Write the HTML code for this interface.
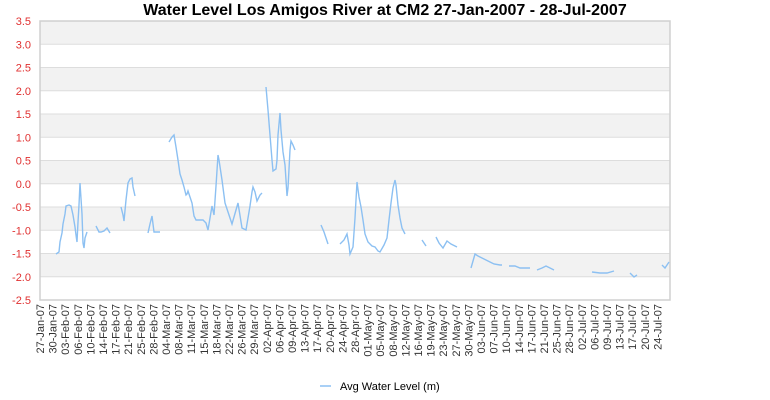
<!DOCTYPE html>
<html><head><meta charset="utf-8"><style>
body{margin:0;background:#fff;}
svg{display:block;font-family:"Liberation Sans",sans-serif;}
</style></head><body>
<svg id="c" width="770" height="400" xmlns="http://www.w3.org/2000/svg">
<text x="385" y="15" text-anchor="middle" font-size="16" font-weight="bold" fill="#000">Water Level Los Amigos River at CM2  27-Jan-2007 - 28-Jul-2007</text>
<g id="bands"></g>
<g id="grid"></g>
<rect x="40" y="21" width="630" height="279" fill="none" stroke="#d0d0d0" stroke-width="1.5"/>
<g id="ylab" font-size="11" fill="#e03030" text-anchor="end"></g>
<g id="xlab" font-size="11" fill="#333"></g>
<g id="data" fill="none" stroke="#8cc0f2" stroke-width="1.4"></g>
<line x1="320" y1="386" x2="331" y2="386" stroke="#8cc0f2" stroke-width="1.5"/>
<text x="340" y="390" font-size="11" fill="#000">Avg Water Level (m)</text>
</svg>
<script>
const ns="http://www.w3.org/2000/svg";
function el(t,a,p,txt){const e=document.createElementNS(ns,t);for(const k in a)e.setAttribute(k,a[k]);if(txt)e.textContent=txt;document.getElementById(p).appendChild(e);}
const Y=v=>21+(3.5-v)*46.5;
for(let i=0;i<12;i++){const v=3.5-i*0.5;if(i%2==0)el('rect',{x:40,y:Y(v),width:630,height:23.25,fill:'#f2f2f2'},'bands');}
for(let i=0;i<=12;i++){const v=3.5-i*0.5;el('line',{x1:40,x2:670,y1:Y(v),y2:Y(v),stroke:'#dddddd','stroke-width':1},'grid');
el('text',{x:31,y:Y(v)+4},'ylab',v.toFixed(1));}
const mon=['Jan','Feb','Mar','Apr','May','Jun','Jul'];
const start=new Date(Date.UTC(2007,0,27));
for(let k=0;k<50;k++){const d=Math.floor(k*3.64+1e-9);const dt=new Date(start.getTime()+d*864e5);
const x=40+k*3.64*630/182+4;
const s=String(dt.getUTCDate()).padStart(2,'0')+'-'+mon[dt.getUTCMonth()]+'-07';
el('text',{x:0,y:0,transform:`translate(${x},304) rotate(-90)`,'text-anchor':'end'},'xlab',s);}
const segs=[
[[56,254],[59,252],[60,242],[62,233],[63,224],[65,214],[66,206],[69,205],[71,206],[73,215],[75,227],[76,235],[77,242],[78,222],[79,205],[80,183],[82,214],[83,243],[84,248],[85,238],[87,232]],
[[96,226],[99,232],[101,232],[104,231],[107,228],[110,233]],
[[121,207],[123,215],[124,221],[126,200],[128,183],[130,179],[132,178],[133,187],[135,196]],
[[148,233],[150,224],[152,216],[154,232],[160,232]],
[[169,142],[172,137],[174,135],[176,147],[178,160],[180,174],[182,180],[184,187],[186,195],[187,194],[188,191],[192,203],[194,216],[196,220],[199,220],[203,220],[206,223],[208,230],[210,218],[212,206],[214,215],[216,186],[218,155],[219,160],[222,180],[225,203],[230,218],[232,224],[236,210],[238,203],[242,228],[246,230],[250,206],[252,192],[253,187],[255,192],[257,201],[260,195],[262,193]],
[[266,87],[268,110],[270,135],[272,160],[273,171],[276,169],[277,160],[278,135],[280,113],[281,130],[283,152],[285,165],[286,180],[287,196],[288,188],[290,150],[291,141],[293,145],[295,150]],
[[321,225],[324,232],[326,238],[328,244]],
[[340,244],[344,240],[347,234],[349,245],[350,254],[353,247],[355,218],[357,182],[359,197],[361,207],[363,220],[365,234],[368,242],[372,246],[375,247],[378,251],[380,252],[384,245],[387,238],[389,220],[391,203],[393,188],[395,180],[396,185],[398,205],[400,218],[402,228],[405,234]],
[[422,240],[426,246]],
[[436,237],[439,243],[443,248],[447,241],[451,244],[457,247]],
[[471,268],[475,254],[478,256],[482,258],[486,260],[490,262],[494,264],[500,265],[502,265]],
[[509,266],[515,266],[520,268],[525,268],[530,268]],
[[537,270],[542,268],[546,266],[550,268],[554,270]],
[[592,272],[600,273],[607,273],[614,271]],
[[630,273],[634,277],[637,275]],
[[662,265],[665,268],[669,262]]];
for(const s of segs)el('polyline',{points:s.map(p=>p.join(',')).join(' ')},'data');
</script>
</body></html>
